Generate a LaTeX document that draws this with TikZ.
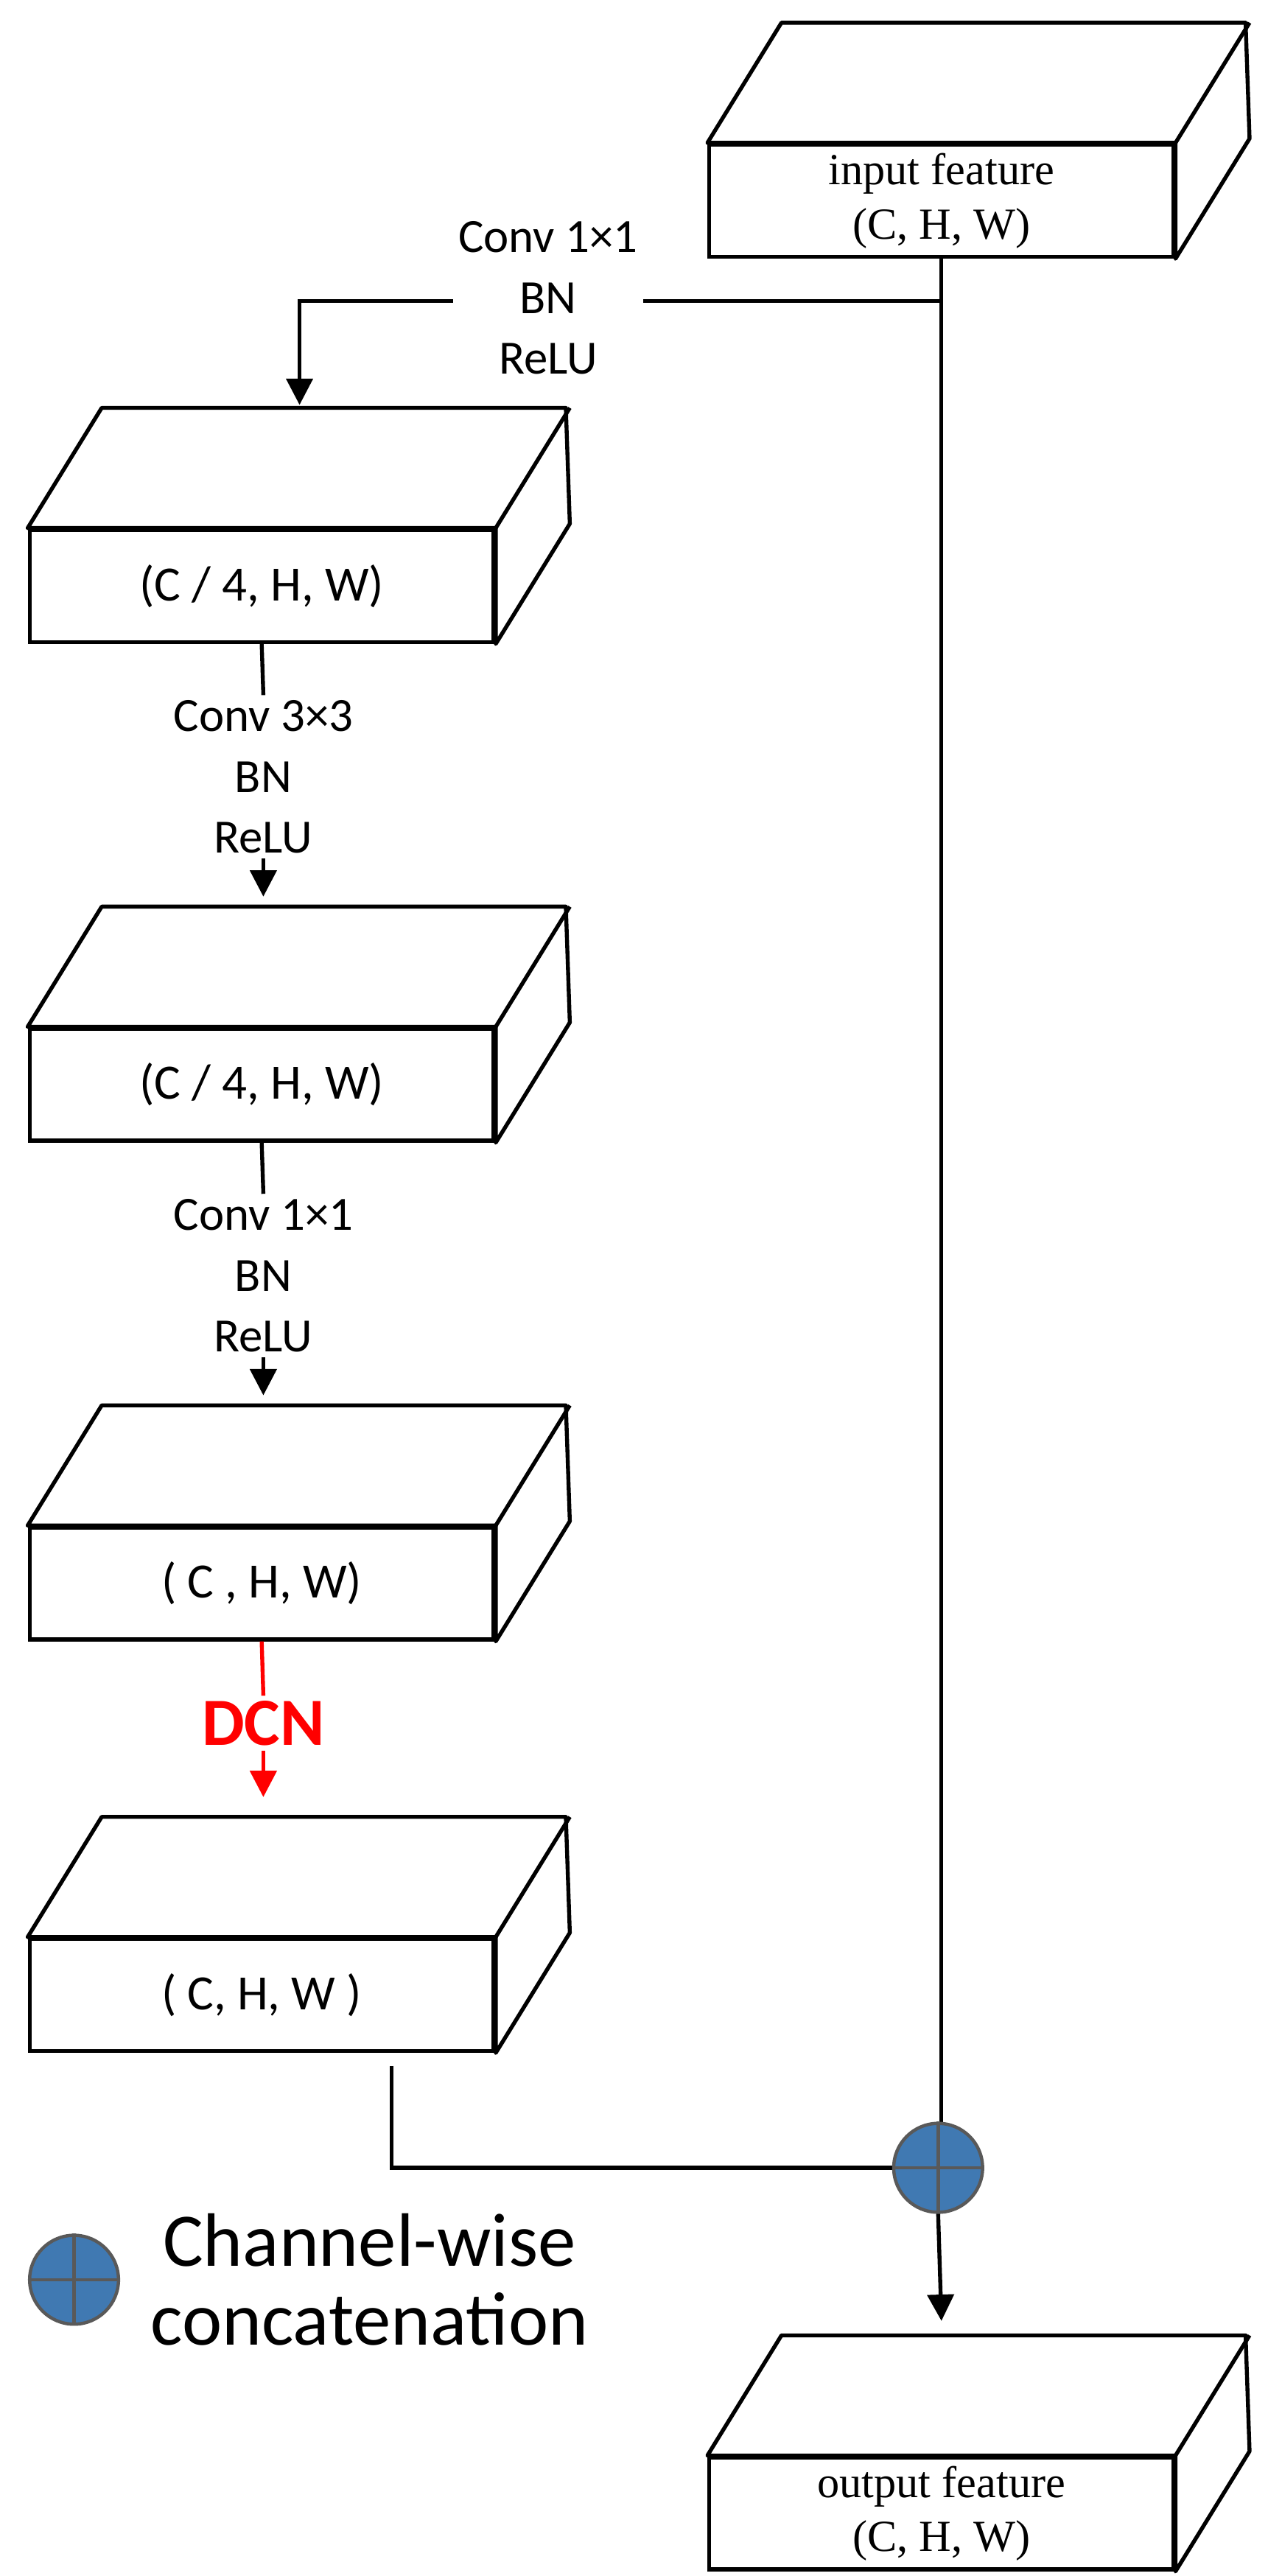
\documentclass[tikz,border=0pt]{standalone}
\usepackage{fontspec}
\setmainfont{Liberation Serif}
\newfontfamily\labelfont{Carlito}
\usetikzlibrary{arrows.meta, positioning, calc}

\tikzset{
    every path/.style={line width=2.4pt},
    front/.style={draw, line width=2.4pt, minimum width=282pt, minimum height=68pt, inner sep=0pt, fill=white},
    boxlabel/.style={font=\labelfont\fontsize{30}{34}\selectfont},
    ops/.style={font=\labelfont\fontsize{29}{37}\selectfont, align=center, inner sep=2pt},
    arr/.style={line width=2.4pt, -{Triangle[length=16pt, width=16pt]}},
    plusnode/.style={circle, draw=black!65, line width=2pt, fill=blue!50!cyan!60!black!75, minimum size=54pt, inner sep=0pt}
}
\newcommand{\cuboid}[1]{%
    \draw[line width=2.4pt, fill=white, line join=round] (#1.north west) -- ++(45,-73) -- ++(282,0) -- ($(#1.south east)+(45,-73)$)
        -- (#1.south east) -- (#1.north east) -- cycle;
    \draw[line width=2.4pt] (#1.north east) -- ++(45,-73);
}

\begin{document}
\begin{tikzpicture}[x=1pt, y=-1pt]
    \useasboundingbox (0,0) rectangle (770,1565);
    % feature maps
    \node[front, font=\fontsize{27}{33}\selectfont, align=center] (in) at (572,122) {input feature\\(C, H, W)};
    \node[front, boxlabel] (b1) at (159,356) {(C / 4, H, W)};
    \node[front, boxlabel] (b2) at (159,659) {(C / 4, H, W)};
    \node[front, boxlabel] (b3) at (159,962) {( C , H, W)};
    \node[front, boxlabel] (b4) at (159,1212) {( C, H, W )};
    \node[front, font=\fontsize{27}{33}\selectfont, align=center] (out) at (572,1527) {output feature\\(C, H, W)};
    \foreach \b in {in, b1, b2, b3, b4, out} {\cuboid{\b}}

    % operations
    \node[ops] (c1) at (333,181) {Conv 1×1\\BN\\ReLU};
    \node[ops] (c2) at (160,472) {Conv 3×3\\BN\\ReLU};
    \node[ops] (c3) at (160,775) {Conv 1×1\\BN\\ReLU};
    \node[font=\labelfont\bfseries\fontsize{41}{44}\selectfont, text=red, inner sep=2pt] (dcn) at (160,1047) {DCN};

    \coordinate (j1) at (572,183);
    \coordinate (t1) at (182,246);
    \draw (j1) -- (c1.east |- j1);
    \draw[arr] (c1.west |- j1) -| (t1);
    \draw (b1.south) -- (c2.north);
    \draw[arr] (c2.south) -- ++(0,23);
    \draw (b2.south) -- (c3.north);
    \draw[arr] (c3.south) -- ++(0,23);
    \draw[red] (b3.south) -- (dcn.north);
    \draw[arr, red] (dcn.south) -- ++(0,28);

    % concatenation
    \draw (in.south) -- (572,1290);
    \coordinate (k1) at (238,1255);
    \draw (k1) |- (545,1317);
    \node[plusnode] (cat) at (570,1317) {};
    \draw[black!65, line width=2pt] (cat.north) -- (cat.south) (cat.west) -- (cat.east);
    \coordinate (t2) at (572,1410);
    \draw[arr] (cat.south) -- (t2);

    % legend
    \node[plusnode] (leg) at (45,1385) {};
    \draw[black!65, line width=2pt] (leg.north) -- (leg.south) (leg.west) -- (leg.east);
    \node[font=\labelfont\fontsize{46}{48}\selectfont, align=center, right=14pt of leg] (legtext) {Channel-wise\\concatenation};
\end{tikzpicture}
\end{document}
